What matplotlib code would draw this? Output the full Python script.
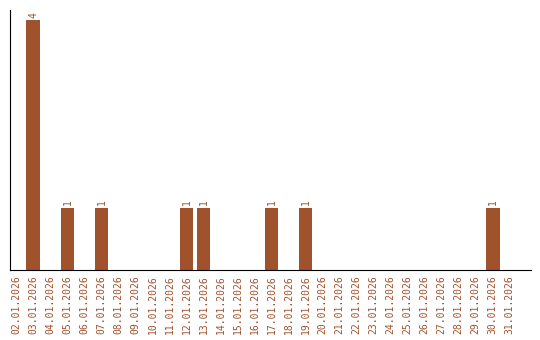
import matplotlib
matplotlib.use('Agg')
import matplotlib.pyplot as plt

dates = ['%02d.01.2026' % d for d in range(2, 32)]
counts = [0, 4, 0, 1, 0, 1, 0, 0, 0, 0, 1, 1, 0, 0, 0, 1, 0, 1,
          0, 0, 0, 0, 0, 0, 0, 0, 0, 0, 1, 0]

brown = '#A0522D'

fig = plt.figure(figsize=(5.4, 3.4), dpi=100)
ax = fig.add_axes([10 / 540, 70 / 340, 521 / 540, 260 / 340])

x = list(range(len(dates)))
bars = ax.bar(x, counts, width=0.82, color=brown)
for xi, c in zip(x, counts):
    if c > 0:
        ax.text(xi, c + 0.04, str(c), rotation=90, ha='center', va='bottom',
                fontsize=7, family='DejaVu Sans Mono', color=brown)

ax.set_xlim(-0.38, 30.26)
ax.set_ylim(0, 4.16)
ax.set_xticks(x)
ax.set_xticklabels(dates, rotation=90, fontsize=7, family='DejaVu Sans Mono', color=brown)
ax.tick_params(axis='x', length=0, pad=4)
ax.set_yticks([])
ax.spines['top'].set_visible(False)
ax.spines['right'].set_visible(False)

fig.savefig('out.png', dpi=100)
